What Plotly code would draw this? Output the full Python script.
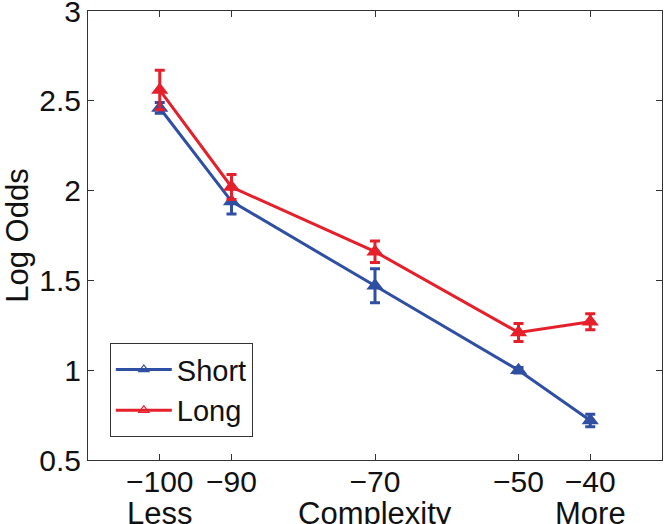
import plotly.graph_objects as go

complexity = [-100, -90, -70, -50, -40]
short_vals = [2.46, 1.94, 1.47, 1.00, 0.72]
short_err = [0.03, 0.07, 0.095, 0.015, 0.035]
long_vals = [2.56, 2.02, 1.66, 1.21, 1.27]
long_err = [0.11, 0.07, 0.06, 0.05, 0.045]

x_tick_text = ["\u2212100", "\u221290", "\u221270", "\u221250", "\u221240"]
y_ticks = [0.5, 1, 1.5, 2, 2.5, 3]
y_tick_text = ["0.5", "1", "1.5", "2", "2.5", "3"]
bottom_labels = [(-100, "Less"), (-70, "Complexity"), (-40, "More")]

BLUE = "#2F4FA2"
RED = "#E5202B"
FONT = "Liberation Sans, Arial, Helvetica, sans-serif"
FS = 30
FT = 31

fig = go.Figure()
for name, vals, err, col in [("Short", short_vals, short_err, BLUE),
                             ("Long", long_vals, long_err, RED)]:
    fig.add_trace(go.Scatter(
        x=complexity, y=vals, mode="lines+markers", name=name,
        showlegend=False,
        line=dict(color=col, width=3),
        marker=dict(symbol="triangle-up", size=15, color=col),
        error_y=dict(type="data", array=err, color=col, thickness=3, width=5),
    ))
    fig.add_trace(go.Scatter(
        x=[None], y=[None], mode="lines+markers", name=name,
        line=dict(color=col, width=3),
        marker=dict(symbol="triangle-up-open", size=9, color=col, line=dict(width=1.2)),
    ))

fig.update_layout(
    width=664, height=524,
    margin=dict(l=88, r=2, t=11, b=64, autoexpand=False),
    paper_bgcolor="white", plot_bgcolor="white",
    font=dict(family=FONT, size=FS, color="#111"),
    legend=dict(x=0.038, y=0.051, xanchor="left", yanchor="bottom",
                bgcolor="white", bordercolor="#333", borderwidth=1,
                font=dict(size=29), tracegroupgap=0, itemwidth=56),
    xaxis=dict(range=[-110, -30], tickvals=complexity, ticktext=x_tick_text,
               ticks="inside", ticklen=6, tickcolor="#333", showgrid=False,
               zeroline=False, showline=True, linecolor="#333", linewidth=1,
               mirror="ticks", tickfont=dict(size=FS), automargin=False,
               ticklabeloverflow="allow", ticklabelstandoff=-5),
    yaxis=dict(range=[0.5, 3], tickvals=y_ticks, ticktext=y_tick_text,
               ticks="inside", ticklen=6, tickcolor="#333", showgrid=False,
               zeroline=False, showline=True, linecolor="#333", linewidth=1,
               mirror="ticks", tickfont=dict(size=FS), automargin=False,
               ticklabeloverflow="allow",
               title=dict(text="Log Odds", standoff=4, font=dict(size=FT))),
)
for xv, txt in bottom_labels:
    fig.add_annotation(x=xv, y=0, xref="x", yref="paper", yshift=-34,
                       text=txt, showarrow=False, yanchor="top",
                       font=dict(size=FT))

fig.write_html("out.html", config={"displayModeBar": False},
               post_script="document.body.style.margin='0px';document.body.style.overflow='hidden';")
